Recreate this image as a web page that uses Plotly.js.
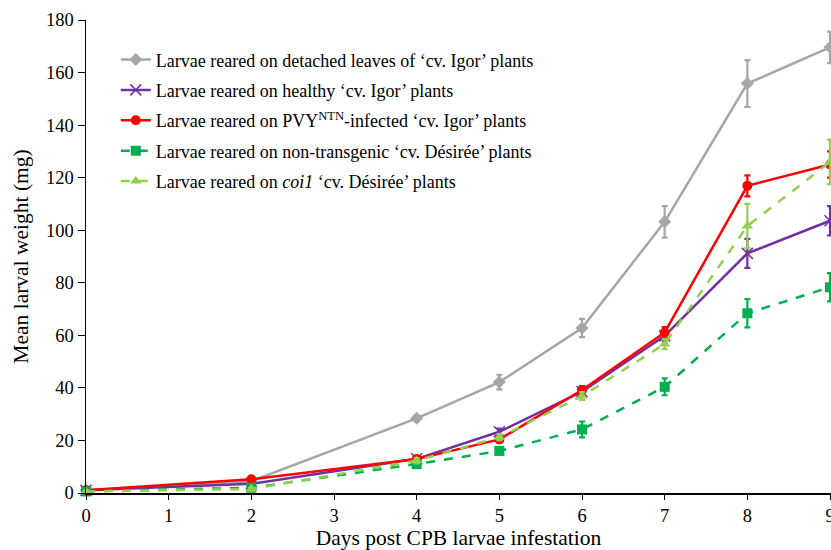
<!DOCTYPE html>
<html>
<head>
<meta charset="utf-8">
<script src="https://cdn.plot.ly/plotly-3.0.1.min.js"></script>
<style>html,body{margin:0;padding:0;background:#fff;}</style>
</head>
<body>
<div id="chart" style="width:831px;height:550px;"></div>
<script>
const days = [0, 2, 4, 5, 6, 7, 8, 9];

const names = [
  "Larvae reared on detached leaves of ‘cv. Igor’ plants",
  "Larvae reared on healthy ‘cv. Igor’ plants",
  "Larvae reared on PVY<sup>NTN</sup>-infected ‘cv. Igor’ plants",
  "Larvae reared on non-transgenic ‘cv. Désirée’ plants",
  "Larvae reared on <i>coi1</i> ‘cv. Désirée’ plants"
];

const detached     = [1.0, 4.5, 28.4, 42.2, 62.8, 103.2, 155.8, 169.6];
const detachedErr  = [0.3, 0.5, 1.0, 2.8, 3.5, 6.0, 8.9, 6.0];
const healthy      = [1.0, 3.5, 13.0, 23.3, 38.6, 59.8, 91.2, 103.6];
const healthyErr   = [0.3, 0.5, 1.0, 1.2, 1.5, 2.0, 5.5, 5.6];
const pvy          = [1.0, 5.2, 12.9, 20.4, 39.2, 61.1, 116.9, 125.0];
const pvyErr       = [0.3, 0.5, 1.0, 1.2, 1.5, 2.0, 4.0, 5.0];
const nontrans     = [0.6, 2.0, 11.0, 16.0, 24.2, 40.4, 68.4, 78.3];
const nontransErr  = [0.3, 0.5, 0.8, 1.0, 3.0, 3.2, 5.4, 5.4];
const coi1         = [0.6, 1.5, 12.3, 21.2, 36.9, 56.7, 101.6, 126.0];
const coi1Err      = [0.3, 0.5, 1.0, 1.2, 1.5, 2.0, 8.4, 8.5];

const yTicks = [0, 20, 40, 60, 80, 100, 120, 140, 160, 180];
const xTicks = [0, 1, 2, 3, 4, 5, 6, 7, 8, 9];

function mk(y, err, name, color, symbol, dash, group) {
  return {
    x: days, y: y, name: name, type: 'scatter', mode: 'lines+markers',
    legendgroup: group,
    line: {color: color, width: 2.5, dash: dash},
    marker: {color: color, symbol: symbol, size: symbol === 'x-thin-open' ? 11 : 10,
             line: {color: color, width: symbol === 'x-thin-open' ? 1.5 : 0}},
    error_y: {type: 'data', array: err, visible: true, color: color, thickness: 2.2, width: 3},
    cliponaxis: false
  };
}

const data = [
  mk(detached, detachedErr, names[0], '#A6A6A6', 'diamond', 'solid', 'a'),
  mk(healthy, healthyErr, names[1], '#7030A0', 'x-thin-open', 'solid', 'b'),
  mk(pvy, pvyErr, names[2], '#FF0000', 'circle', 'solid', 'c'),
  mk(nontrans, nontransErr, names[3], '#00B050', 'square', 'dash', 'd'),
  mk(coi1, coi1Err, names[4], '#92D050', 'triangle-up', 'dash', 'e')
];

const font = {family: '"Liberation Serif", "Times New Roman", serif', color: '#000'};

const layout = {
  width: 831, height: 550,
  margin: {l: 86, r: 0, t: 20, b: 57},
  paper_bgcolor: '#fff', plot_bgcolor: '#fff',
  font: Object.assign({size: 18}, font),
  showlegend: true,
  legend: {
    x: 0.04, y: 0.955, xanchor: 'left', yanchor: 'top',
    font: Object.assign({size: 18}, font),
    bgcolor: 'rgba(0,0,0,0)', borderwidth: 0,
    traceorder: 'grouped', tracegroupgap: 4
  },
  xaxis: {
    range: [0, 9.012], tickvals: xTicks, ticktext: xTicks.map(String),
    showgrid: false, zeroline: false, showline: true, linecolor: '#000', linewidth: 1.5,
    ticks: 'outside', ticklen: 5, tickcolor: '#000', tickwidth: 1,
    ticklabeloverflow: 'allow',
    tickfont: Object.assign({size: 18.5}, font),
    title: {text: 'Days post CPB larvae infestation', font: Object.assign({size: 21.5}, font), standoff: 5}
  },
  yaxis: {
    range: [0, 180], tickvals: yTicks,
    showgrid: false, zeroline: false, showline: true, linecolor: '#000', linewidth: 1.5,
    ticks: 'outside', ticklen: 7, tickcolor: '#000', tickwidth: 1,
    tickfont: Object.assign({size: 18.5}, font),
    title: {text: 'Mean larval weight (mg)', font: Object.assign({size: 21.5}, font), standoff: 11}
  }
};

Plotly.newPlot('chart', data, layout, {displayModeBar: false, staticPlot: true});
</script>
</body>
</html>
